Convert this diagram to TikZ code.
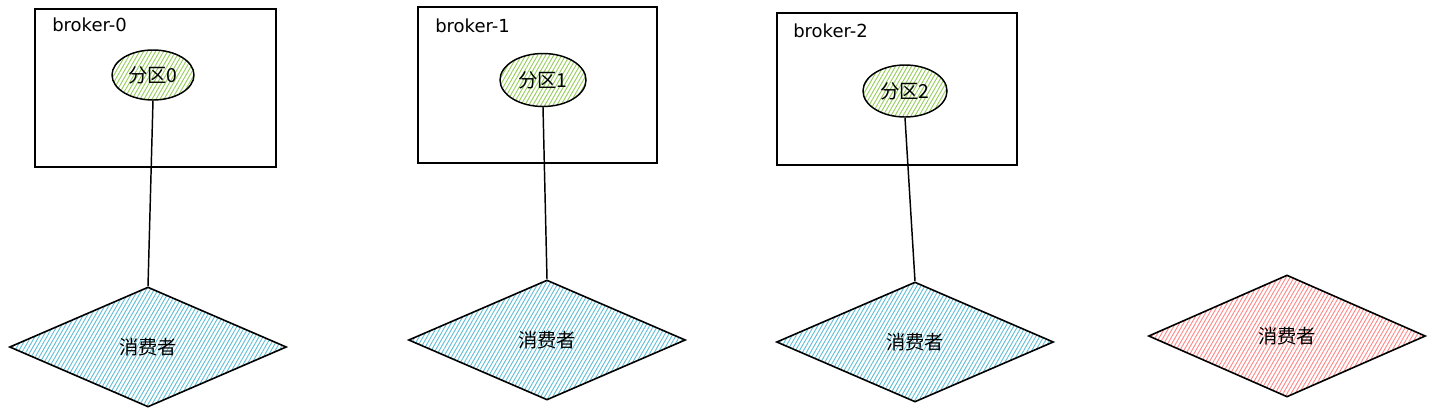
\documentclass[tikz,border=0pt]{standalone}
\usepackage{fontspec}
\usepackage{tikz}
\setmainfont{DejaVu Sans}
\newfontfamily\cjkfont{Noto Sans CJK SC}
\usetikzlibrary{shapes.geometric}
\usetikzlibrary{patterns.meta}
\definecolor{partgreen}{RGB}{150,205,90}
\definecolor{consblue}{RGB}{95,190,215}
\definecolor{consred}{RGB}{255,135,135}

\begin{document}
\begin{tikzpicture}[x=0.75pt, y=-0.75pt,
    broker/.style={draw, line width=1.2pt, rectangle, inner sep=0pt},
    brokerlabel/.style={anchor=west, inner sep=0pt, font=\fontsize{13.5}{15}\selectfont},
    partition/.style={draw, line width=1.1pt, ellipse, inner sep=0pt, font=\cjkfont\fontsize{14.5}{16}\selectfont,
      pattern={Lines[angle=60, distance=2.6pt, line width=0.7pt]}, pattern color=partgreen},
    consumer/.style={draw, line width=1.2pt, diamond, inner sep=0pt, minimum width=207.75pt, minimum height=90pt,
      font=\cjkfont\fontsize{14.5}{16}\selectfont, pattern={Lines[angle=60, distance=2.6pt, line width=0.7pt]}},
    link/.style={line width=1.1pt}]
    \useasboundingbox (0, 0) rectangle (1435, 418);

    \node [broker, minimum width=180.75pt, minimum height=118.5pt] (box0) at (155.5, 88) {};
    \node [broker, minimum width=179.25pt, minimum height=117pt] (box1) at (537.5, 85) {};
    \node [broker, minimum width=180pt, minimum height=114pt] (box2) at (897, 89) {};
    \node [brokerlabel] (name0) at (52, 25) {broker-0};
    \node [brokerlabel] (name1) at (435, 26) {broker-1};
    \node [brokerlabel] (name2) at (793, 31) {broker-2};

    \node [partition, minimum width=61.5pt, minimum height=37.5pt] (part0) at (153, 75) {分区0};
    \node [partition, minimum width=64.5pt, minimum height=39.75pt] (part1) at (543, 80) {分区1};
    \node [partition, minimum width=63pt, minimum height=39pt] (part2) at (905, 91) {分区2};

    \node [consumer, pattern color=consblue] (cons0) at (148, 347) {消费者};
    \node [consumer, pattern color=consblue] (cons1) at (547, 340) {消费者};
    \node [consumer, pattern color=consblue] (cons2) at (915, 342) {消费者};
    \node [consumer, pattern color=consred, minimum height=91.5pt] (cons3) at (1287, 336) {消费者};

    \draw [link] (part0.south) -- (cons0.north);
    \draw [link] (part1.south) -- (cons1.north);
    \draw [link] (part2.south) -- (cons2.north);
\end{tikzpicture}
\end{document}
